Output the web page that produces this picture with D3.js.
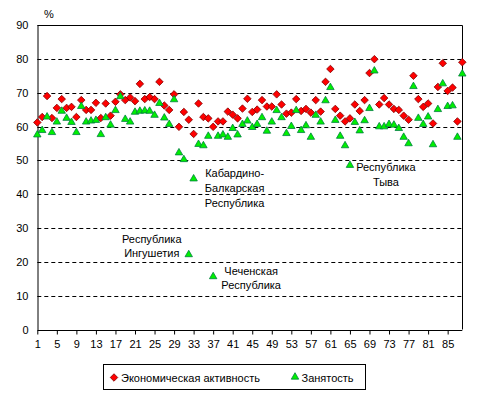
<!DOCTYPE html>
<html><head><meta charset="utf-8">
<script src="https://cdn.jsdelivr.net/npm/d3@7"></script>
<style>body{margin:0;background:#fff}svg{display:block}text{font-family:"Liberation Sans",Arial,sans-serif;font-size:11px;fill:#000}</style>
</head><body>
<script>
const activity = [61.2,62.8,69.0,62.5,65.5,68.1,65.5,65.8,62.8,67.8,64.9,64.9,67.0,62.5,66.8,63.2,67.3,69.5,67.8,68.6,67.5,72.6,68.1,68.7,68.1,73.2,66.2,64.9,69.5,59.9,64.3,62.0,57.8,66.8,62.8,62.4,59.9,61.5,61.5,64.4,63.5,62.4,65.3,68.2,64.3,65.0,67.8,65.9,65.9,69.5,66.5,63.8,64.1,68.1,64.6,65.2,64.1,67.8,64.4,73.2,77.0,65.2,63.2,61.5,62.4,66.5,64.6,67.8,75.8,79.9,66.5,68.4,66.5,65.2,64.9,63.2,62.0,75.0,68.1,65.8,66.8,60.9,71.7,78.7,70.5,71.5,61.5,79.0];
const employment = [57.4,58.7,62.7,58.1,61.2,64.4,62.3,61.1,58.1,65.8,61.2,61.5,61.7,57.5,62.5,60.3,64.6,68.7,62.0,61.2,64.1,64.4,64.5,64.4,63.2,66.7,62.4,60.5,67.8,52.1,50.1,22.0,44.4,54.6,54.2,57.0,15.5,57.0,57.4,56.7,59.3,57.4,60.5,61.5,59.6,60.5,62.5,58.5,61.2,64.6,62.5,57.8,59.9,64.6,58.7,60.1,56.7,63.2,61.2,67.5,71.4,61.7,57.0,54.2,48.4,61.1,58.6,61.6,65.2,76.3,59.8,59.8,60.5,60.3,59.3,56.7,54.8,71.7,62.3,60.5,62.7,54.5,64.9,72.5,65.8,66.0,56.7,75.4];
const xTicks = [1,5,9,13,17,21,25,29,33,37,41,45,49,53,57,61,65,69,73,77,81,85];
const yTicks = [0,10,20,30,40,50,60,70,80,90];
const seriesNames = ["Экономическая активность","Занятость"];
const annotations = [
  {i:33, v:44.4, lines:["Кабардино-","Балкарская","Республика"]},
  {i:32, v:22.0, lines:["Республика","Ингушетия"]},
  {i:37, v:15.5, lines:["Чеченская","Республика"]},
  {i:65, v:48.4, lines:["Республика","Тыва"]}
];

const W=485,H=397;
const svg=d3.select("body").append("svg").attr("width",W).attr("height",H);
const x=d3.scaleLinear().domain([1,88]).range([37.3,462.3]);
const y=d3.scaleLinear().domain([0,90]).range([329.5,25]);

// gridlines
svg.append("g").selectAll("line").data(yTicks.filter(t=>t>0&&t<90)).join("line")
  .attr("x1",x(1)).attr("x2",x(88)).attr("y1",d=>Math.round(y(d))+0.5).attr("y2",d=>Math.round(y(d))+0.5)
  .attr("stroke","#000").attr("stroke-dasharray","4,3");
// border top/right
svg.append("path").attr("d",`M${x(1)},${Math.round(y(90))+0.5}H${Math.round(x(88))+0.5}V${y(0)}`)
  .attr("fill","none").attr("stroke","#000");

// axes
const xa=svg.append("g").attr("transform",`translate(0,${Math.round(y(0))+0.5})`)
  .call(d3.axisBottom(x).tickValues(xTicks).tickSize(4).tickPadding(6).tickFormat(d3.format("d")));
xa.select(".domain").attr("d",`M${x(1)},0H${x(88)}`);
const ya=svg.append("g").attr("transform",`translate(${Math.round(x(1))+0.5},0)`)
  .call(d3.axisLeft(y).tickValues(yTicks).tickSize(0).tickPadding(9));
svg.selectAll(".tick text").style("font-family","'Liberation Sans',Arial,sans-serif").style("font-size","11px");
svg.selectAll(".domain,.tick line").attr("stroke","#000");

svg.append("text").attr("x",49).attr("y",18).attr("text-anchor","middle").text("%");

const diamond = d3.symbol().type(d3.symbolDiamond2).size(36);
const triangle = d3.symbol().type(d3.symbolTriangle).size(24);

svg.append("g").selectAll("path").data(activity).join("path")
  .attr("d",diamond).attr("transform",(d,i)=>`translate(${x(i+1)},${y(d)})`)
  .attr("fill","#ff0000").attr("stroke","#800000").attr("stroke-width",0.8);
svg.append("g").selectAll("path").data(employment).join("path")
  .attr("d",triangle).attr("transform",(d,i)=>`translate(${x(i+1)},${y(d)-0.5})`)
  .attr("fill","#00f000").attr("stroke","#008040").attr("stroke-width",0.8);

// annotations (text positions relative to the marker)
const offs = {33:[[41,-2],15],32:[-37,-12,14],37:[38,-2,14],65:[36,5,15]};
annotations.forEach(a=>{
  const o=offs[a.i];
  const dx = Array.isArray(o[0])?o[0][0]:o[0];
  const dy = Array.isArray(o[0])?o[0][1]:o[1];
  const lh = Array.isArray(o[0])?o[1]:o[2];
  const t=svg.append("text").attr("text-anchor","middle");
  a.lines.forEach((l,k)=>t.append("tspan").attr("x",x(a.i)+dx).attr("y",y(a.v)+dy+k*lh).text(l));
});

// legend
const lg=svg.append("g");
lg.append("rect").attr("x",103.5).attr("y",364.5).attr("width",262).attr("height",25).attr("fill","#fff").attr("stroke","#000");
lg.append("path").attr("d",diamond).attr("transform","translate(114,377.5)").attr("fill","#ff0000").attr("stroke","#800000").attr("stroke-width",0.8);
lg.append("text").attr("x",121).attr("y",381.5).text(seriesNames[0]);
lg.append("path").attr("d",triangle).attr("transform","translate(295,377)").attr("fill","#00f000").attr("stroke","#008040").attr("stroke-width",0.8);
lg.append("text").attr("x",301.5).attr("y",381.5).text(seriesNames[1]);
</script>
</body></html>
